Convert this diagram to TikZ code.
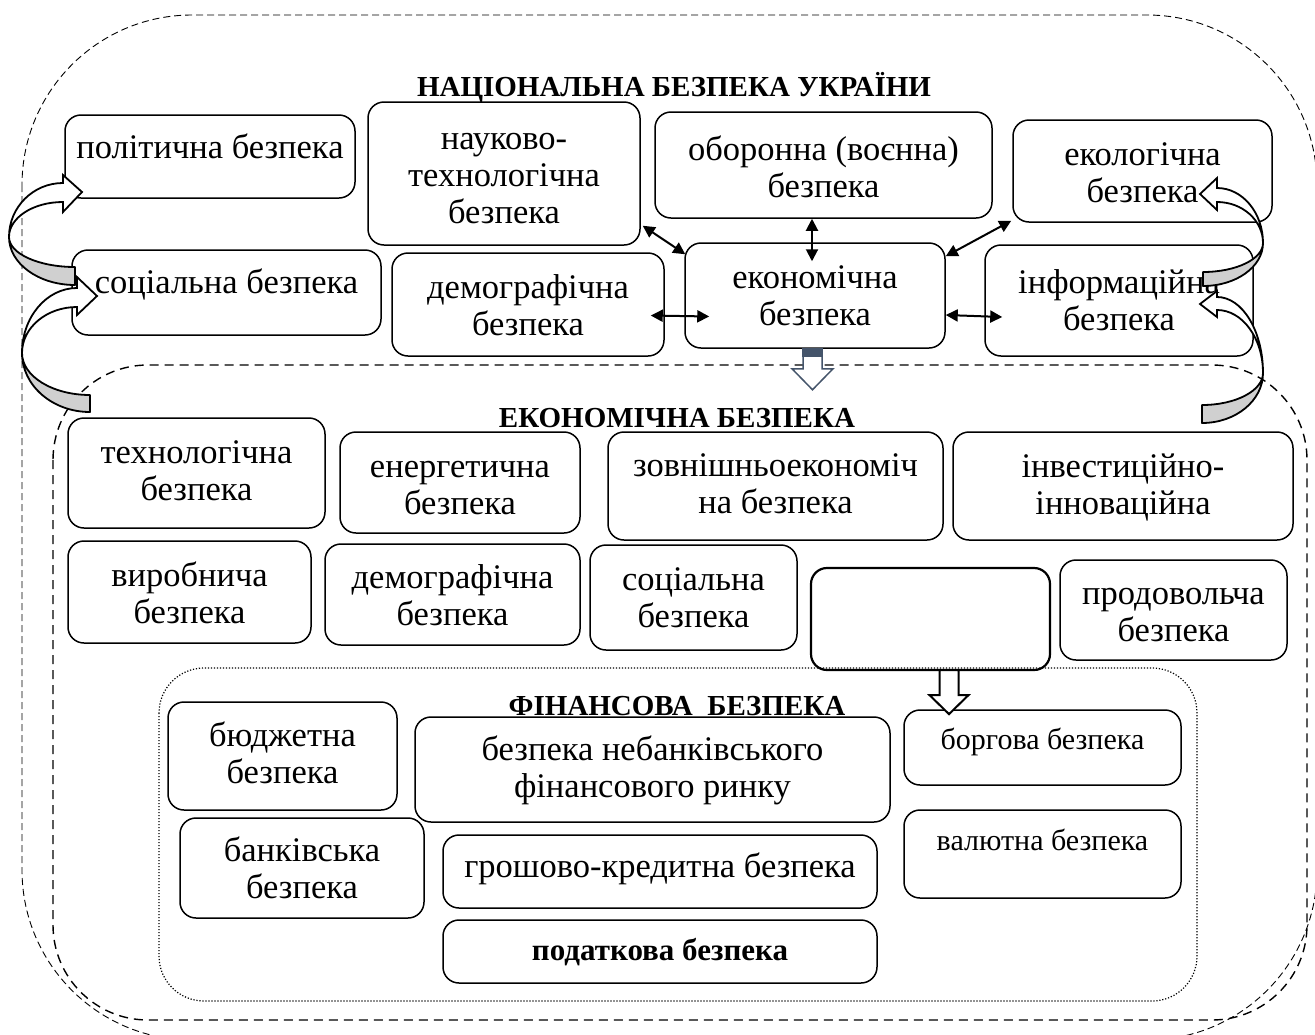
\documentclass[tikz,border=0pt]{standalone}
\usepackage{fontspec}
\setmainfont{Liberation Serif}
\usetikzlibrary{arrows.meta}
\definecolor{backface}{RGB}{208,208,208}
\definecolor{slate}{RGB}{68,84,106}
\begin{document}
\begin{tikzpicture}[x=1pt,y=-1pt,
  box/.style={draw, line width=1.5pt, rounded corners=16pt, inner sep=0pt,
    align=center, font=\fontsize{34.5}{37}\selectfont, text depth=10pt},
  wh/.style 2 args={minimum width=#1pt, minimum height=#2pt},
  bl/.style={text height=#1pt},
  small/.style={font=\fontsize{30}{34}\selectfont},
  title/.style={anchor=base, inner sep=0pt, font=\bfseries\fontsize{29}{33}\selectfont},
  dar/.style={line width=2pt, {Triangle[length=12pt,width=12pt]}-{Triangle[length=12pt,width=12pt]}},
  backpart/.style={draw, line width=1.8pt, fill=backface, line join=round},
  frontpart/.style={draw, line width=1.8pt, fill=white, line join=miter},
  ]
\useasboundingbox (0,0) rectangle (1315,1034);

% frames of the three levels
\draw[line width=0.9pt, dash pattern=on 7pt off 4pt, rounded corners=170pt]
  (22,15) rectangle (1317,1040);
\draw[line width=1.4pt, dash pattern=on 9pt off 6pt, rounded corners=95pt]
  (53,365) rectangle (1307,1020);
\draw[line width=1.2pt, dash pattern=on 1.2pt off 1.8pt, rounded corners=45pt]
  (159,668) rectangle (1197,1001);

% level titles
\node[title] (tnat) at (674,96) {НАЦІОНАЛЬНА БЕЗПЕКА УКРАЇНИ};
\node[title] (tecon) at (677,427) {ЕКОНОМІЧНА БЕЗПЕКА};
\node[title] (tfin) at (677,715) {ФІНАНСОВА\ \ БЕЗПЕКА};

% national security components
\node[box, wh={290}{83}, bl=13] (pol) at (210,156.5) {політична безпека};
\node[box, wh={272}{143}, bl=109] (nauk) at (504,173.5) {науково-\\технологічна\\безпека};
\node[box, wh={337}{106}, bl=74] (obor) at (823.5,165) {оборонна (воєнна)\\безпека};
\node[box, wh={259}{102}, bl=72] (ekol) at (1142.5,171) {екологічна\\безпека};
\node[box, wh={309}{85}, bl=11] (soc) at (226.5,292.5) {соціальна безпека};
\node[box, wh={272}{103}, bl=71] (dem) at (528,304.5) {демографічна\\безпека};
\node[box, wh={260}{105}, bl=69] (ekon) at (815,295.5) {економічна\\безпека};
\node[box, wh={268}{111}, bl=69] (inf) at (1119,300.5) {інформаційна\\безпека};

% economic security components
\node[box, wh={257}{110}, bl=64] (tech) at (196.5,473) {технологічна\\безпека};
\node[box, wh={240}{101}, bl=73] (energ) at (460,482.5) {енергетична\\безпека};
\node[box, wh={335}{108}, bl=64] (zovn) at (775.5,486) {зовнішньоекономіч\\на безпека};
\node[box, wh={340}{108}, bl=66] (invest) at (1123,486) {інвестиційно-\\інноваційна};
\node[box, wh={243}{102}, bl=72] (vyrob) at (189.5,592) {виробнича\\безпека};
\node[box, wh={255}{101}, bl=71] (dem2) at (452.5,594.5) {демографічна\\безпека};
\node[box, wh={207}{105}, bl=69] (soc2) at (693.5,597.5) {соціальна\\безпека};
\node[box, wh={239}{102}, line width=2.2pt] (blank) at (930.5,619) {};
\node[box, wh={227}{100}, bl=72] (prod) at (1173.5,610) {продовольча\\безпека};

% financial security components
\node[box, wh={229}{108}, bl=64] (budg) at (282.5,756) {бюджетна\\безпека};
\node[box, wh={475}{105}, bl=65] (nebank) at (652.5,769.5) {безпека небанківського\\фінансового ринку};
\node[box, small, wh={277}{75}, bl=13] (borg) at (1042.5,747.5) {боргова безпека};
\node[box, wh={244}{100}, bl=70] (bank) at (302,868) {банківська\\безпека};
\node[box, wh={434}{73}, bl=21] (grosh) at (660,871.5) {грошово-кредитна безпека};
\node[box, small, wh={277}{88}, bl=2] (valut) at (1042.5,854) {валютна безпека};
\node[box, wh={434}{63}, bl=27, font=\bfseries\fontsize{31}{35}\selectfont] (podat) at (660,951.5) {податкова безпека};

% links of economic security with the other components
\draw[dar] ([xshift=2pt,yshift=20pt]nauk.south east) -- ([xshift=1pt,yshift=-12pt]ekon.north west);
\draw[dar] ([xshift=-11.5pt]obor.south) -- ([xshift=-3pt,yshift=-19pt]ekon.north);
\draw[dar] ([xshift=-1pt,yshift=2pt]ekol.south west) -- ([yshift=-14pt]ekon.north east);
\draw[dar] ([xshift=-14pt,yshift=-11pt]dem.east) -- ([xshift=25pt,yshift=-21pt]ekon.west);
\draw[dar] ([yshift=-19.5pt]ekon.east) -- ([xshift=18pt,yshift=-16.5pt]inf.west);

% block arrows down to the lower levels
\draw[slate, line width=1.5pt, fill=white, line join=miter]
  ([xshift=-12pt,yshift=-4pt]ekon.south) -- ++(0,16) -- ++(-11,0) -- ++(20.5,21)
  -- ++(20.5,-21) -- ++(-11,0) -- ++(0,-16) -- cycle;
\fill[slate] ([xshift=-13pt,yshift=1pt]ekon.south) rectangle ([xshift=8pt,yshift=-8pt]ekon.south);
\draw[line width=2pt, fill=white, line join=miter]
  ([xshift=9pt,yshift=1pt]blank.south) -- ++(0,25) -- ++(-10,0) -- ++(19.5,19)
  -- ++(19.5,-19) -- ++(-10,0) -- ++(0,-25) -- cycle;

% curved arrows on the left
\path[backpart] (9,237) arc[start angle=180,end angle=90,x radius=66,y radius=48]
  -- (75,267) arc[start angle=90,end angle=180,x radius=66,y radius=30] -- cycle;
\path[frontpart] (9,237) arc[start angle=180,end angle=270,x radius=54,y radius=54]
  -- (63,175) -- (82,192) -- (63,212) -- (63,202)
  arc[start angle=270,end angle=180,x radius=54,y radius=35] -- cycle;
\path[backpart] (22,353) arc[start angle=180,end angle=90,x radius=68,y radius=59]
  -- (90,395) arc[start angle=90,end angle=180,x radius=68,y radius=42] -- cycle;
\path[frontpart] (22,353) arc[start angle=180,end angle=270,x radius=55,y radius=65]
  -- (77,277) -- (97,296) -- (77,315) -- (77,307)
  arc[start angle=270,end angle=180,x radius=55,y radius=46] -- cycle;

% curved arrows on the right
\path[backpart] (1263,243) arc[start angle=0,end angle=90,x radius=60,y radius=43]
  -- (1203,272) arc[start angle=90,end angle=0,x radius=60,y radius=29] -- cycle;
\path[frontpart] (1263,243) arc[start angle=0,end angle=-90,x radius=46,y radius=55]
  -- (1217,178) -- (1200,194) -- (1217,210) -- (1217,202)
  arc[start angle=-90,end angle=0,x radius=46,y radius=41] -- cycle;
\path[backpart] (1263,373) arc[start angle=0,end angle=90,x radius=61,y radius=50]
  -- (1202,405) arc[start angle=90,end angle=0,x radius=61,y radius=32] -- cycle;
\path[frontpart] (1263,373) arc[start angle=0,end angle=-90,x radius=46,y radius=76]
  -- (1217,291) -- (1200,304) -- (1217,317) -- (1217,310)
  arc[start angle=-90,end angle=0,x radius=46,y radius=63] -- cycle;
\end{tikzpicture}
\end{document}
